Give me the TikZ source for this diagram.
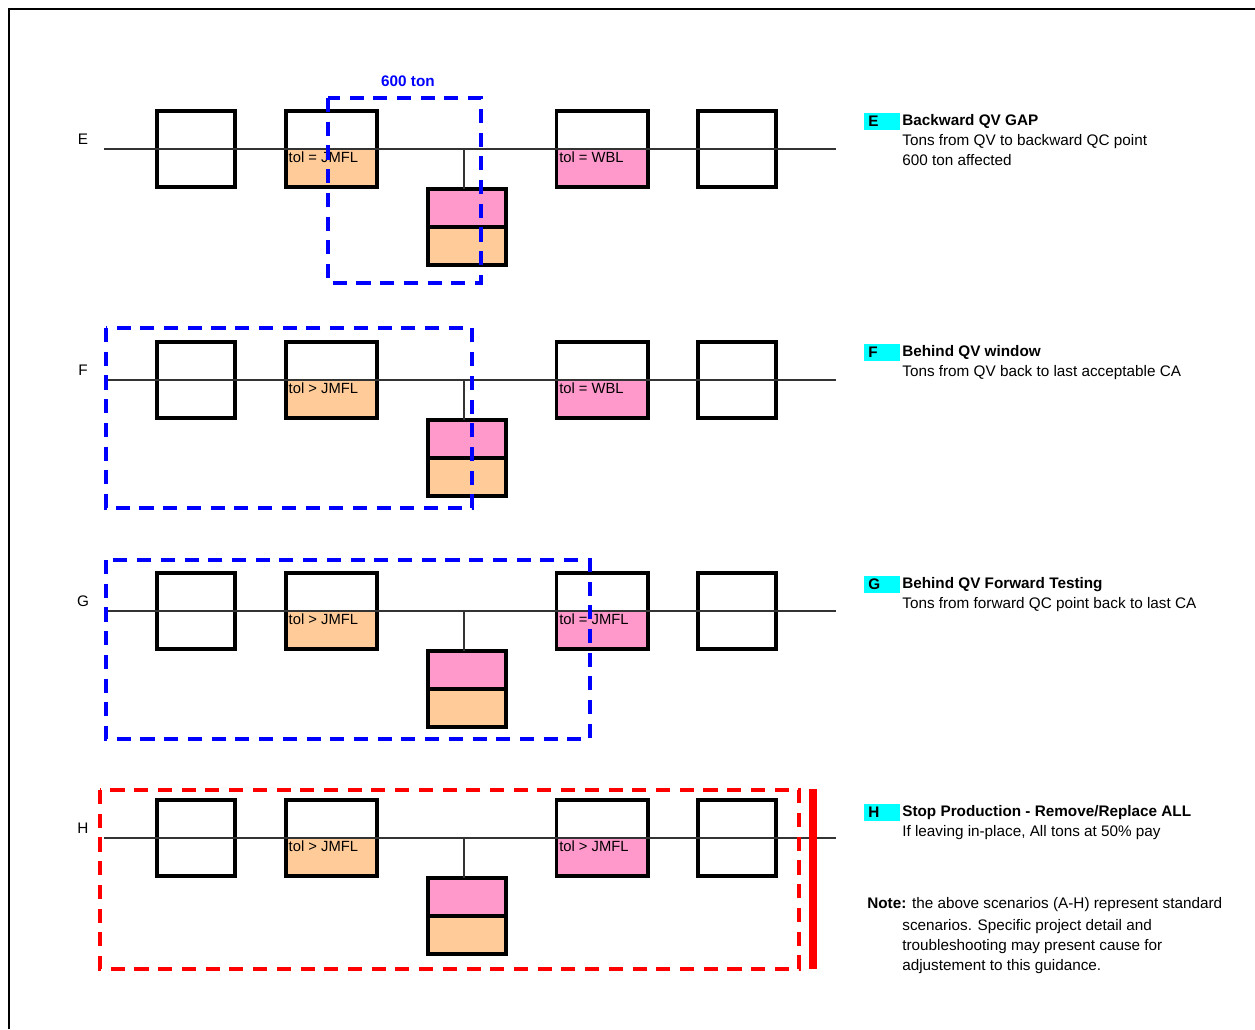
\documentclass[tikz,border=0pt]{standalone}
\usepackage{fontspec}
\setmainfont{Liberation Sans}
\usetikzlibrary{positioning}

\definecolor{peach}{HTML}{FFCC99}
\definecolor{rose}{HTML}{FF99CC}
\definecolor{aqua}{HTML}{00FFFF}

\begin{document}
\begin{tikzpicture}[x=0.02cm,y=-0.02cm,
  font=\fontsize{8.7}{11.3}\selectfont,
  box/.style={draw,line width=2pt,minimum height=1.52cm,inner sep=0,outer sep=0},
  lowfill/.style={path picture={\fill[#1] (path picture bounding box.west)
      rectangle (path picture bounding box.south east);}},
  half/.style={draw,line width=2pt,fill=#1,minimum width=1.57cm,
      minimum height=0.76cm,inner sep=0,outer sep=0},
  tol/.style={inner sep=1.5pt,font=\fontsize{8.4}{10}\selectfont},
  wire/.style={black!80,line width=0.6pt},
  zone/.style={line width=2.3pt,dash pattern=on 8pt off 5.5pt},
  tag/.style={fill=aqua,font=\fontsize{8.7}{11.3}\bfseries,text width=0.55cm,
      inner xsep=0.08cm,inner ysep=0,minimum height=0.34cm,anchor=west},
  desc/.style={align=left,inner sep=0,anchor=north west}]
  \useasboundingbox (0,0) rectangle (1255,1029);

  % page frame
  \draw[line width=1.2pt] (9,1029) -- (9,9) -- (1255,9);

  % the four rows
  \foreach \r/\y/\ta/\tb in {E/149/{tol = JMFL}/{tol = WBL},
                             F/380/{tol > JMFL}/{tol = WBL},
                             G/611/{tol > JMFL}/{tol = JMFL},
                             H/838/{tol > JMFL}/{tol > JMFL}}{
     \node[box,minimum width=1.57cm] (a\r) at (196,\y) {};
     \node[box,minimum width=1.83cm,lowfill=peach] (b\r) at (331.5,\y) {};
     \node[box,minimum width=1.83cm,lowfill=rose] (d\r) at (602,\y) {};
     \node[box,minimum width=1.57cm] (e\r) at (737,\y) {};
     \node[half=rose,anchor=north] (cu\r) at (467,{\y+40}) {};
     \node[half=peach,anchor=north] (cl\r) at (cu\r.south) {};
     \node[tol,anchor=north west] (tb\r) at (b\r.west) {\ta};
     \node[tol,anchor=north west] (td\r) at (d\r.west) {\tb};
     \coordinate (s\r) at (104,\y);
     \coordinate (t\r) at (836,\y);
     \draw[wire] (s\r) -- (t\r);
     \draw[wire] ([xshift=-1.7pt]cu\r.north) -- ([xshift=-1.7pt]cu\r.north |- s\r);
     \node (n\r) at (83,{\y-10}) {\r};
  }

  % affected zones
  \draw[zone,blue] (328,98) rectangle (481,283);
  \node[blue,font=\fontsize{8.7}{11.3}\bfseries] (ton) at (408,81) {600 ton};
  \draw[zone,blue] (106,328) rectangle (472,508);
  \draw[zone,blue] (106,560) rectangle (590,739);
  \draw[zone,red] (100,790) rectangle (799,969);
  \draw[red,line width=4.5pt] (813,789) -- (813,969);

  % legend
  \node[tag] (kE) at (864,121) {E};
  \node[desc] (xE) at (902,114) {\textbf{Backward QV GAP}\\Tons from QV to backward QC point\\600 ton affected};
  \node[tag] (kF) at (864,352) {F};
  \node[desc] (xF) at (902,345) {\textbf{Behind QV window}\\Tons from QV back to last acceptable CA};
  \node[tag] (kG) at (864,584) {G};
  \node[desc] (xG) at (902,577) {\textbf{Behind QV Forward Testing}\\Tons from forward QC point back to last CA};
  \node[tag] (kH) at (864,812) {H};
  \node[desc] (xH) at (902,805) {\textbf{Stop Production - Remove/Replace ALL}\\If leaving in-place, All tons at 50\% pay};

  % note
  \node[inner sep=0,anchor=west] (note) at (867,905) {\textbf{Note:} the above scenarios (A-H) represent standard};
  \node[desc] (notemore) at (902,919) {scenarios. Specific project detail and\\troubleshooting may present cause for\\adjustement to this guidance.};
\end{tikzpicture}
\end{document}
